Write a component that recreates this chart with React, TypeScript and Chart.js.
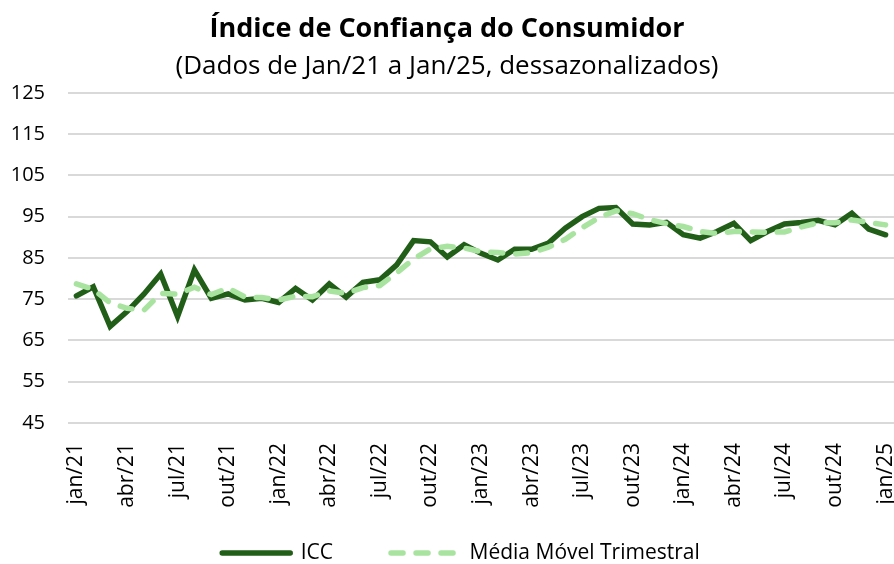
import React, { useEffect, useRef } from "react";
import { Chart, registerables } from "chart.js";

Chart.register(...registerables);

const months = ["jan", "fev", "mar", "abr", "mai", "jun", "jul", "ago", "set", "out", "nov", "dez"];
const years = ["21", "22", "23", "24", "25"];
const categories: string[] = [];
for (const y of years) {
  for (const m of months) {
    if (y === "25" && m !== "jan") break;
    categories.push(`${m}/${y}`);
  }
}

const iccValues = [
  75.8, 78.0, 68.4, 72.0, 76.2, 81.1, 70.8, 82.1, 75.2, 76.3, 74.8, 75.2,
  74.2, 77.6, 74.8, 78.7, 75.5, 79.1, 79.7, 83.3, 89.2, 88.9, 85.2, 88.2,
  86.1, 84.5, 87.1, 87.1, 88.6, 92.2, 95.0, 97.0, 97.2, 93.2, 93.0, 93.6,
  90.6, 89.8, 91.4, 93.4, 89.2, 91.4, 93.2, 93.6, 94.1, 93.0, 95.8, 92.0,
  90.6,
];

const mediaMovelValues = [
  78.7, 77.4, 74.1, 72.8, 72.3, 76.4, 76.2, 77.9, 76.1, 77.7, 75.5, 75.4,
  74.8, 75.7, 75.6, 77.0, 76.4, 77.8, 78.3, 81.4, 84.7, 87.2, 87.8, 87.4,
  86.5, 86.3, 85.9, 86.3, 87.6, 89.5, 92.3, 94.8, 96.4, 95.7, 94.3, 93.3,
  92.6, 91.4, 90.9, 91.4, 91.3, 91.2, 91.3, 92.5, 93.5, 93.5, 94.2, 93.6,
  93.0,
];

const yMin = 45;
const yMax = 125;
const yStep = 10;

const titleText = "Índice de Confiança do Consumidor";
const subtitleText = "(Dados de Jan/21 a Jan/25, dessazonalizados)";
const seriesNames = ["ICC", "Média Móvel Trimestral"];

const FONT = "'Open Sans', 'DejaVu Sans', sans-serif";
const LEGEND_PAD = 58;

const legendShift = {
  id: "legendShift",
  afterLayout(chart: any) {
    if (chart.legend && chart.legend.lineWidths) {
      chart.legend.lineWidths[0] -= 28;
    }
  },
};

export default function App() {
  const ref = useRef<HTMLCanvasElement>(null);
  useEffect(() => {
    const chart = new Chart(ref.current!, {
      type: "line",
      data: {
        labels: categories,
        datasets: [
          {
            label: seriesNames[0],
            data: iccValues,
            borderColor: "#215E18",
            backgroundColor: "#215E18",
            borderWidth: 5.5,
            pointRadius: 0,
            borderCapStyle: "round",
            tension: 0,
            order: 1,
          },
          {
            label: seriesNames[1],
            data: mediaMovelValues,
            borderColor: "#A9E3A0",
            backgroundColor: "#A9E3A0",
            borderWidth: 5.5,
            borderDash: [12, 13],
            borderCapStyle: "round",
            pointRadius: 0,
            tension: 0,
            order: 0,
          },
        ],
      },
      plugins: [legendShift],
      options: {
        responsive: false,
        animation: false,
        layout: { padding: { left: 0, right: 0, top: 0, bottom: -9.5 } },
        plugins: {
          title: {
            display: true,
            text: titleText,
            color: "#000",
            font: { family: FONT, size: 27, weight: "bold", lineHeight: 1.2 },
            padding: { top: 13, bottom: 6 },
          },
          subtitle: {
            display: true,
            text: subtitleText,
            color: "#000",
            font: { family: FONT, size: 26, weight: "normal", lineHeight: 1.2 },
            padding: { top: 0, bottom: 10.2 },
          },
          legend: {
            position: "bottom",
            labels: {
              usePointStyle: true,
              pointStyle: "line",
              pointStyleWidth: 68,
              boxWidth: 68,
              color: "#000",
              padding: LEGEND_PAD,
              font: { family: FONT, size: 21 },
              sort: (a: any, b: any) => a.datasetIndex - b.datasetIndex,
              generateLabels: (c: any) => {
                const items = Chart.defaults.plugins.legend.labels.generateLabels(c);
                return items.map((it: any) => {
                  const ds: any = c.data.datasets[it.datasetIndex];
                  return {
                    ...it,
                    pointStyle: "line",
                    lineDash: ds.borderDash || [],
                    lineCap: ds.borderCapStyle,
                    lineWidth: ds.borderWidth,
                    strokeStyle: ds.borderColor,
                    fillStyle: ds.borderColor,
                  };
                });
              },
            },
          },
          tooltip: { enabled: false },
        },
        scales: {
          x: {
            offset: true,
            grid: { display: false, drawTicks: false },
            border: { display: false },
            ticks: {
              autoSkip: false,
              maxRotation: 90,
              minRotation: 90,
              padding: 20,
              color: "#000",
              font: { family: FONT, size: 21 },
              callback: (_v: any, i: number) => (i % 3 === 0 ? categories[i] : ""),
            },
            afterFit: (s: any) => {
              s.paddingLeft = 0;
              s.paddingRight = 0;
              s.height = 61.5;
              s._computeLabelArea = () => undefined;
            },
          },
          y: {
            min: yMin,
            max: yMax,
            grid: { color: "#D9D9D9", lineWidth: 2, drawTicks: false },
            border: { display: false },
            ticks: {
              stepSize: yStep,
              padding: 23,
              color: "#000",
              font: { family: FONT, size: 20 },
            },
            afterFit: (s: any) => {
              s.width = 68;
            },
          },
        },
      },
    });
    return () => chart.destroy();
  }, []);
  return (
    <div style={{ position: "fixed", left: 0, top: 0, width: 894, height: 564, background: "#fff" }}>
      <canvas ref={ref} width={894} height={564} style={{ width: 894, height: 564, display: "block" }} />
    </div>
  );
}
